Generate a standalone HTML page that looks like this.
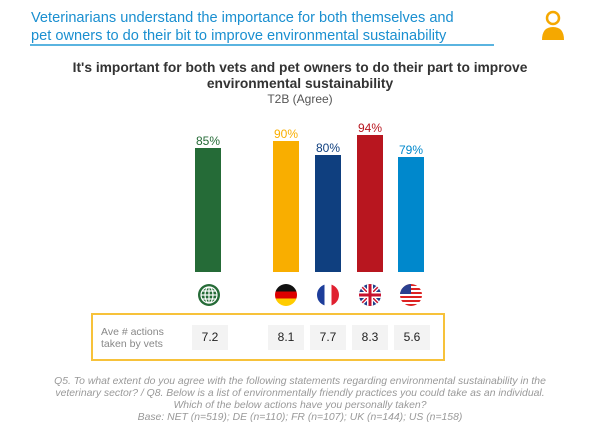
<!DOCTYPE html>
<html><head><style>
body{margin:0;width:600px;height:435px;background:#fff;font-family:"Liberation Sans",sans-serif;position:relative;overflow:hidden}
.a{position:absolute}
.hd{left:31px;top:9px;color:#1a8fd0;font-size:14.6px;line-height:18px}
.t{left:0;width:600px;text-align:center;color:#333}
.bar{position:absolute;width:26px;bottom:163px}
.lb{position:absolute;width:40px;text-align:center;font-size:12px}
.cell{position:absolute;top:325px;width:36px;height:25px;background:#f3f3f3;text-align:center;line-height:25px;font-size:12px;color:#222}
.fl{position:absolute;top:284px;width:22px;height:22px;border-radius:50%;overflow:hidden}
.ft{left:10px;width:580px;top:376px;text-align:center;font-style:italic;color:#999;font-size:10.4px;line-height:12px}
</style></head><body>
<div class="a hd">Veterinarians understand the importance for both themselves and<br>pet owners to do their bit to improve environmental sustainability</div>
<div class="a" style="left:30px;top:44px;width:464px;height:2px;background:#5ab4e0"></div>
<svg class="a" style="left:540px;top:9px" width="26" height="32"><circle cx="13" cy="9" r="6" fill="none" stroke="#f5a800" stroke-width="2.5"/><path d="M2 31 Q2 18 13 18 Q24 18 24 31Z" fill="#f5a800"/></svg>
<div class="a t" style="top:60px;font-size:13.8px;font-weight:bold;line-height:16px">It's important for both vets and pet owners to do their part to improve<br>environmental sustainability</div>
<div class="a t" style="top:92px;font-size:12px;color:#555">T2B (Agree)</div>
<div class="bar" style="left:195px;height:124px;background:#256b37"></div>
<div class="bar" style="left:273px;height:131px;background:#f9ae00"></div>
<div class="bar" style="left:315px;height:117px;background:#0f3f7f"></div>
<div class="bar" style="left:357px;height:137px;background:#b8161f"></div>
<div class="bar" style="left:398px;height:115px;background:#0088cc"></div>
<div class="lb" style="left:188px;top:134px;color:#256b37">85%</div>
<div class="lb" style="left:266px;top:127px;color:#f9ae00">90%</div>
<div class="lb" style="left:308px;top:141px;color:#0f3f7f">80%</div>
<div class="lb" style="left:350px;top:121px;color:#b8161f">94%</div>
<div class="lb" style="left:391px;top:143px;color:#0088cc">79%</div>
<svg class="a" style="left:197px;top:283px" width="24" height="24"><circle cx="12" cy="12" r="11" fill="#256b37"/><g stroke="#fff" stroke-width="1.2" fill="none"><circle cx="12" cy="12" r="8"/><ellipse cx="12" cy="12" rx="4" ry="8"/><line x1="4" y1="12" x2="20" y2="12"/><line x1="12" y1="4" x2="12" y2="20"/><line x1="5" y1="8" x2="19" y2="8"/><line x1="5" y1="16" x2="19" y2="16"/></g></svg>
<div class="fl" style="left:275px;background:linear-gradient(#111 33%,#d00 33%,#d00 66%,#fc0 66%)"></div>
<div class="fl" style="left:317px;background:linear-gradient(90deg,#1d3d9a 33%,#fff 33%,#fff 66%,#e02030 66%)"></div>
<svg class="fl" style="left:359px" width="22" height="22"><rect width="22" height="22" fill="#1d3d8a"/><path d="M0 0L22 22M22 0L0 22" stroke="#fff" stroke-width="4"/><path d="M0 0L22 22M22 0L0 22" stroke="#c8102e" stroke-width="1.5"/><path d="M11 0V22M0 11H22" stroke="#fff" stroke-width="6"/><path d="M11 0V22M0 11H22" stroke="#c8102e" stroke-width="3"/></svg>
<svg class="fl" style="left:400px" width="22" height="22"><rect width="22" height="22" fill="#fff"/><g fill="#d22"><rect y="0" width="22" height="2"/><rect y="4" width="22" height="2"/><rect y="8" width="22" height="2"/><rect y="12" width="22" height="2"/><rect y="16" width="22" height="2"/><rect y="20" width="22" height="2"/></g><rect width="11" height="10" fill="#2a3f8f"/></svg>
<div class="a" style="left:91px;top:313px;width:350px;height:44px;border:2px solid #f7c23a"></div>
<div class="a" style="left:101px;top:326px;font-size:10.5px;color:#888;line-height:12px">Ave # actions<br>taken by vets</div>
<div class="cell" style="left:192px">7.2</div>
<div class="cell" style="left:268px">8.1</div>
<div class="cell" style="left:310px">7.7</div>
<div class="cell" style="left:352px">8.3</div>
<div class="cell" style="left:394px">5.6</div>
<div class="a ft">Q5. To what extent do you agree with the following statements regarding environmental sustainability in the<br>veterinary sector? / Q8. Below is a list of environmentally friendly practices you could take as an individual.<br>Which of the below actions have you personally taken?<br>Base: NET (n=519); DE (n=110); FR (n=107); UK (n=144); US (n=158)</div>
</body></html>
